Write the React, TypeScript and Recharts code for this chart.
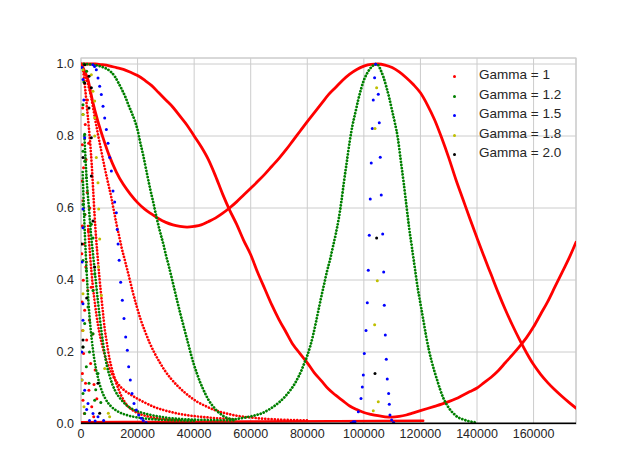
import React from 'react';
import { ScatterChart, Scatter, XAxis, YAxis, CartesianGrid, ReferenceArea } from 'recharts';

type Pt = [number, number];

// Gamma = 1 (red)
const gamma1WideA: Pt[] = [
  [0, 1.0], [2500, 1.0], [5000, 1.0], [7500, 0.998], [10000, 0.995], [12500, 0.99], [15000, 0.985],
  [17500, 0.977], [20000, 0.968], [22500, 0.955], [25000, 0.94], [27500, 0.92], [30000, 0.9],
  [32500, 0.88], [35000, 0.855], [37500, 0.83], [40000, 0.8], [42500, 0.77], [45000, 0.735],
  [47500, 0.69], [50000, 0.64], [52500, 0.595], [55000, 0.555], [57500, 0.51], [60000, 0.47],
  [62500, 0.42], [65000, 0.375], [67500, 0.33], [70000, 0.29], [72500, 0.255], [75000, 0.22],
  [77500, 0.195], [80000, 0.17], [82500, 0.142], [85000, 0.12], [87500, 0.097], [90000, 0.08],
  [92500, 0.065], [95000, 0.05], [97500, 0.04], [100000, 0.032], [102500, 0.027], [105000, 0.023],
  [107500, 0.02], [110000, 0.019], [112500, 0.021], [115000, 0.025], [117500, 0.031], [120000, 0.037],
  [122500, 0.043], [125000, 0.049], [127500, 0.055], [130000, 0.062], [132500, 0.07], [135000, 0.08],
  [137500, 0.09], [140000, 0.1], [142500, 0.115], [145000, 0.13], [147500, 0.148], [150000, 0.17],
  [152500, 0.192], [155000, 0.215], [157500, 0.24], [160000, 0.27], [162500, 0.305], [165000, 0.34],
  [167500, 0.38], [170000, 0.42], [172500, 0.46], [175000, 0.505],
];
const gamma1WideB: Pt[] = [
  [0, 1.0], [1000, 0.985], [2500, 0.955], [4000, 0.9], [6000, 0.84], [8000, 0.79], [10000, 0.745],
  [12500, 0.7], [15000, 0.665], [17500, 0.638], [20000, 0.615], [22500, 0.597], [25000, 0.583],
  [27500, 0.57], [30000, 0.56], [32500, 0.553], [35000, 0.549], [37500, 0.547], [40000, 0.549],
  [42500, 0.553], [45000, 0.562], [47500, 0.572], [50000, 0.585], [52500, 0.6], [55000, 0.617],
  [57500, 0.636], [60000, 0.655], [62500, 0.674], [65000, 0.694], [67500, 0.716], [70000, 0.738],
  [72500, 0.762], [75000, 0.788], [77500, 0.814], [80000, 0.84], [82500, 0.865], [85000, 0.89],
  [87500, 0.915], [90000, 0.935], [92500, 0.955], [95000, 0.972], [97500, 0.985], [100000, 0.994],
  [102500, 0.999], [105000, 1.0], [107500, 0.997], [110000, 0.99], [112500, 0.978], [115000, 0.962],
  [117500, 0.943], [120000, 0.92], [122500, 0.886], [125000, 0.845], [127500, 0.795], [130000, 0.74],
  [132500, 0.68], [135000, 0.625], [137500, 0.57], [140000, 0.517], [142500, 0.465], [145000, 0.415],
  [147500, 0.365], [150000, 0.318], [152500, 0.275], [155000, 0.235], [157500, 0.198], [160000, 0.165],
  [162500, 0.138], [165000, 0.115], [167500, 0.095], [170000, 0.077], [172500, 0.06], [175000, 0.044],
];
const gamma1DecayC: Pt[] = [
  [1500, 0.97], [2600, 0.94], [3640, 0.906], [4800, 0.855], [6010, 0.804], [7200, 0.757], [8370, 0.712],
  [9550, 0.67], [10730, 0.629], [11600, 0.593], [12500, 0.557], [13400, 0.525], [14300, 0.492],
  [15500, 0.455], [16700, 0.418], [18200, 0.37], [19650, 0.328], [21100, 0.29], [22600, 0.258],
  [24300, 0.225], [26000, 0.197], [27800, 0.172], [29500, 0.15], [31700, 0.127], [34000, 0.107],
  [36300, 0.09], [38500, 0.076], [41000, 0.062], [44000, 0.05], [47500, 0.038], [51000, 0.03],
  [55000, 0.023], [60000, 0.018], [68000, 0.013], [80000, 0.01],
];
const gamma1DecayC2: Pt[] = [
  [800, 0.98], [1500, 0.93], [2100, 0.88], [2700, 0.83], [3300, 0.775], [3800, 0.72], [4300, 0.65],
  [4800, 0.58], [5400, 0.51], [6000, 0.454], [6600, 0.4], [7200, 0.353], [7800, 0.307], [8370, 0.265],
  [9000, 0.232], [9540, 0.205], [10100, 0.18], [10730, 0.159], [11600, 0.135], [12500, 0.113],
  [13400, 0.094], [14270, 0.078], [15400, 0.062], [16600, 0.049], [18300, 0.038], [20150, 0.03],
  [23700, 0.021], [28000, 0.015], [35000, 0.011],
];
const gamma1DecayD: Pt[] = [
  [2500, 0.55], [3300, 0.46], [4100, 0.39], [5000, 0.33], [6000, 0.275], [7000, 0.235], [8200, 0.197],
  [9500, 0.165], [11000, 0.138], [12500, 0.118], [14000, 0.103], [15600, 0.092], [17300, 0.083],
  [20000, 0.07], [23200, 0.057], [26000, 0.047], [29100, 0.039], [32500, 0.032], [36200, 0.026],
  [40000, 0.022], [45000, 0.018], [54000, 0.013],
];
const gamma1Floor: Pt[] = [[0, 0.005], [30000, 0.006], [60000, 0.007], [90000, 0.008], [121000, 0.009]];
const gamma1Cloud: Pt[] = [
  [400, 0.99], [1200, 0.975], [600, 0.878], [1500, 0.832], [500, 0.776], [1800, 0.735], [900, 0.712],
  [400, 0.675], [2200, 0.643], [700, 0.62], [1400, 0.582], [500, 0.55], [2600, 0.536], [1000, 0.5],
  [300, 0.473], [1700, 0.436], [800, 0.399], [2400, 0.371], [400, 0.339], [1300, 0.316], [3000, 0.288],
  [600, 0.26], [2000, 0.233], [900, 0.196], [3400, 0.168], [500, 0.14], [1600, 0.113], [2800, 0.094],
  [700, 0.066], [3800, 0.048], [1200, 0.029], [4500, 0.02], [2300, 0.9], [3100, 0.6], [3600, 0.38],
  [4200, 0.25], [5000, 0.15], [2700, 0.78], [1900, 0.45], [4600, 0.11], [5600, 0.07],
];

// Gamma = 1.2 (green)
const gamma12Main: Pt[] = [
  [1000, 1.0], [3000, 0.999], [5000, 0.997], [7000, 0.993], [9000, 0.987], [10600, 0.978], [12000, 0.965],
  [13200, 0.948], [14400, 0.93], [15550, 0.911], [16700, 0.888], [17900, 0.865], [19000, 0.843],
  [19900, 0.82], [20860, 0.785], [22030, 0.745], [23200, 0.7], [24400, 0.655], [25560, 0.615],
  [26760, 0.572], [27900, 0.535], [29100, 0.5], [30000, 0.47], [31000, 0.44], [32000, 0.408],
  [33000, 0.375], [34000, 0.342], [35000, 0.31], [36000, 0.28], [37000, 0.25], [38000, 0.22],
  [39000, 0.19], [40000, 0.163], [41000, 0.14], [42000, 0.118], [43000, 0.1], [44000, 0.083],
  [45000, 0.068], [46000, 0.056], [47000, 0.046], [48000, 0.037], [49000, 0.03], [50000, 0.024],
  [51000, 0.019], [52000, 0.016], [53000, 0.014], [54000, 0.013], [56000, 0.015], [58000, 0.018],
  [60000, 0.021], [62000, 0.025], [64000, 0.03], [66000, 0.038], [68000, 0.048], [70000, 0.06],
  [72000, 0.075], [74000, 0.094], [75000, 0.105], [76000, 0.118], [77000, 0.133], [78000, 0.15],
  [79000, 0.17], [80000, 0.19], [81000, 0.215], [82000, 0.245], [83000, 0.28], [84000, 0.318],
  [85000, 0.355], [86000, 0.39], [87000, 0.425], [88000, 0.455], [89000, 0.49], [90000, 0.525],
  [91000, 0.565], [92000, 0.615], [93000, 0.675], [94000, 0.73], [95000, 0.785], [96000, 0.83],
  [97000, 0.865], [98000, 0.9], [99000, 0.93], [100000, 0.955], [101000, 0.972], [102000, 0.985],
  [103000, 0.994], [104000, 0.999], [104500, 1.0], [105000, 0.998], [106000, 0.982], [107000, 0.962],
  [108000, 0.935], [109000, 0.905], [110000, 0.87], [111000, 0.835], [112000, 0.795], [113000, 0.735],
  [114000, 0.675], [115000, 0.61], [116000, 0.545], [117000, 0.49], [118000, 0.435], [119000, 0.38],
  [120000, 0.335], [121000, 0.29], [122000, 0.245], [123000, 0.205], [124000, 0.173], [125000, 0.145],
  [126000, 0.12], [127000, 0.095], [128000, 0.074], [129000, 0.058], [130000, 0.045], [131000, 0.035],
  [132000, 0.027], [133000, 0.02], [134000, 0.016], [135000, 0.013], [137000, 0.008], [139000, 0.005],
  [140000, 0.004],
];
const gamma12DecayA: Pt[] = [
  [1200, 0.8], [2000, 0.68], [2800, 0.6], [3500, 0.53], [4240, 0.473], [4800, 0.43], [5400, 0.385],
  [6000, 0.34], [6600, 0.298], [7190, 0.26], [7800, 0.225], [8370, 0.195], [9200, 0.16], [10130, 0.133],
  [11000, 0.112], [11900, 0.095], [13000, 0.08], [14270, 0.067], [16000, 0.053], [17800, 0.043],
  [20500, 0.034], [23700, 0.027], [29000, 0.019], [35000, 0.014], [45000, 0.011], [54000, 0.01],
];
const gamma12DecayB: Pt[] = [
  [600, 0.7], [1100, 0.58], [1700, 0.47], [2300, 0.38], [3000, 0.3], [3800, 0.235], [4700, 0.18],
  [5800, 0.135], [7000, 0.1], [8500, 0.072], [10500, 0.05], [13000, 0.035], [16500, 0.024],
  [21000, 0.017], [28000, 0.012], [40000, 0.009],
];
const gamma12Cloud: Pt[] = [
  [707, 0.887], [700, 0.86], [1300, 0.805], [700, 0.758], [1300, 0.73], [1880, 0.684], [700, 0.61],
  [1300, 0.582], [3650, 0.555], [4240, 0.517], [700, 0.454], [1880, 0.426], [4830, 0.417], [4240, 0.371],
  [2470, 0.325], [1300, 0.279], [4240, 0.251], [700, 0.214], [1880, 0.159], [2830, 0.113], [700, 0.085],
  [4830, 0.066], [1300, 0.029], [3000, 0.2], [6000, 0.14], [5200, 0.095], [7000, 0.06], [2000, 0.98],
  [1000, 0.95],
];

// Gamma = 1.5 (blue)
const gamma15Decay: Pt[] = [
  [4200, 0.998], [4800, 0.993], [5420, 0.984], [6010, 0.961], [6600, 0.938], [7190, 0.915], [7780, 0.883],
  [8370, 0.85], [8960, 0.818], [9550, 0.78], [10140, 0.74], [10730, 0.703], [11310, 0.647], [11900, 0.617],
  [12490, 0.587], [12800, 0.54], [13100, 0.5], [13500, 0.455], [14020, 0.394], [14610, 0.344],
  [15200, 0.293], [15790, 0.242], [16380, 0.205], [16850, 0.159], [17440, 0.122], [18030, 0.085],
  [18740, 0.057], [19560, 0.039], [20390, 0.025], [21330, 0.016], [22000, 0.01], [23000, 0.004],
];
const gamma15Peak: Pt[] = [
  [95500, 0.003], [96270, 0.006], [96860, 0.006], [98040, 0.034], [98980, 0.071], [99450, 0.103],
  [99800, 0.136], [100150, 0.196], [100750, 0.26], [101220, 0.337], [101570, 0.427], [101920, 0.524],
  [102270, 0.625], [102620, 0.725], [102980, 0.821], [103330, 0.9], [103800, 0.962], [104170, 0.999],
  [105100, 0.916], [105450, 0.837], [105800, 0.741], [106160, 0.636], [106650, 0.528], [107000, 0.422],
  [107230, 0.33], [107580, 0.247], [107930, 0.18], [108280, 0.125], [108760, 0.085], [108990, 0.055],
  [109230, 0.025], [109820, 0.011], [110500, 0.004],
];
const gamma15Cloud: Pt[] = [
  [700, 0.957], [300, 0.99], [1300, 0.795], [700, 0.597], [700, 0.545], [700, 0.334], [700, 0.288],
  [350, 0.122], [1300, 0.094], [2470, 0.057], [4240, 0.029], [6010, 0.02], [1000, 0.9], [400, 0.45],
  [300, 0.2], [2000, 0.04], [3000, 0.01], [5000, 0.008], [8000, 0.01],
];

// Gamma = 1.8 (yellow)
const gamma18Pts: Pt[] = [
  [707, 0.984], [3650, 0.97], [4240, 0.924], [4830, 0.897], [707, 0.86], [4830, 0.851], [4830, 0.8],
  [5420, 0.74], [6010, 0.67], [6250, 0.597], [6600, 0.514], [6130, 0.436], [7190, 0.357], [8370, 0.154],
  [10130, 0.02], [707, 0.362], [707, 0.26], [354, 0.122], [1060, 0.048], [9660, 0.03],
  [104520, 0.934], [103930, 0.821], [104750, 0.398], [103810, 0.276], [105100, 0.062], [103330, 0.037],
];

// Gamma = 2.0 (black)
const gamma20Pts: Pt[] = [
  [1300, 0.998], [2830, 0.966], [1300, 0.947], [3650, 0.934], [2830, 0.878], [3650, 0.795], [707, 0.74],
  [3650, 0.689], [4240, 0.564], [4830, 0.436], [707, 0.233], [707, 0.214], [6010, 0.113], [6600, 0.03],
  [2000, 0.35], [300, 0.5], [104520, 0.517], [103930, 0.14],
];
const gamma20Floor: Pt[] = [[0, 0], [175000, 0]];

const xTicks = [0, 20000, 40000, 60000, 80000, 100000, 120000, 140000, 160000];
const yTicks = [0, 0.2, 0.4, 0.6, 0.8, 1.0];
const legendLabels = ['Gamma = 1', 'Gamma = 1.2', 'Gamma = 1.5', 'Gamma = 1.8', 'Gamma = 2.0'];
const colors = ['#ff0000', '#008000', '#0000ff', '#bfbf00', '#000000'];

const FONT = '"Liberation Sans", Arial, sans-serif';
const Y_MAX = 1.0167;

const toRows = (pts: Pt[]) => pts.map(([x, y]) => ({ x, y }));
const NoMark = () => <g />;

// a curve drawn as a (dotted) line through its points
const trace = (key: string, pts: Pt[], color: string, width: number, dash?: string) => (
  <Scatter
    key={key}
    data={toRows(pts)}
    fill={color}
    shape={NoMark}
    isAnimationActive={false}
    lineJointType="monotoneX"
    line={{ stroke: color, strokeWidth: width, strokeDasharray: dash, strokeLinecap: 'round', strokeLinejoin: 'round' }}
  />
);

// loose markers
const dots = (key: string, pts: Pt[], color: string, r = 1.5) => (
  <Scatter
    key={key}
    data={toRows(pts)}
    fill={color}
    isAnimationActive={false}
    shape={(p: any) => <circle cx={p.cx} cy={p.cy} r={r} fill={color} />}
  />
);

const DOT = '0.01 3.2';

export default function App() {
  const [red, green, blue, yellow, black] = colors;
  return (
    <div style={{ position: 'absolute', left: 0, top: 0, width: 640, height: 476, background: '#fff' }}>
      <ScatterChart width={640} height={476} margin={{ top: 58, right: 64, bottom: 0, left: 0 }}>
        <CartesianGrid stroke="#cccccc" strokeWidth={1} />
        <XAxis
          type="number"
          dataKey="x"
          domain={[0, 175000]}
          ticks={xTicks}
          interval={0}
          allowDataOverflow
          height={52}
          axisLine={false}
          tickLine={false}
          tickSize={3}
          tickMargin={2}
          tick={{ fill: '#262626', fontSize: 12.5, fontFamily: FONT }}
        />
        <YAxis
          type="number"
          dataKey="y"
          domain={[0, Y_MAX]}
          ticks={yTicks}
          interval={0}
          allowDataOverflow
          width={81}
          axisLine={false}
          tickLine={false}
          tickSize={5}
          tickMargin={2}
          tickFormatter={(v: number) => v.toFixed(1)}
          tick={{ fill: '#262626', fontSize: 12.5, fontFamily: FONT }}
        />
        <ReferenceArea x1={0} x2={175000} y1={0} y2={Y_MAX} fill="none" stroke="#cccccc" strokeWidth={1.2} ifOverflow="visible" />

        {trace('g1a', gamma1WideA, red, 2.8)}
        {trace('g1b', gamma1WideB, red, 2.8)}
        {trace('g1c', gamma1DecayC, red, 2.7, DOT)}
        {trace('g1c2', gamma1DecayC2, red, 2.7, DOT)}
        {trace('g1d', gamma1DecayD, red, 2.7, DOT)}
        {trace('g1f', gamma1Floor, red, 2.4)}
        {dots('g1cl', gamma1Cloud, red)}

        {trace('g12m', gamma12Main, green, 2.8, DOT)}
        {trace('g12a', gamma12DecayA, green, 2.7, DOT)}
        {trace('g12b', gamma12DecayB, green, 2.7, DOT)}
        {dots('g12cl', gamma12Cloud, green)}

        {dots('g15d', gamma15Decay, blue)}
        {dots('g15p', gamma15Peak, blue)}
        {dots('g15cl', gamma15Cloud, blue)}

        {dots('g18', gamma18Pts, yellow)}

        {dots('g20', gamma20Pts, black)}
        {trace('g20f', gamma20Floor, black, 3)}
      </ScatterChart>

      {legendLabels.map((label, i) => (
        <React.Fragment key={label}>
          <span
            style={{
              position: 'absolute', left: 452.5, top: 75 + i * 19.6, width: 3, height: 3,
              borderRadius: 2, background: colors[i],
            }}
          />
          <span
            style={{
              position: 'absolute', left: 479, top: 66 + i * 19.6, lineHeight: '18px',
              fontSize: 13.5, fontFamily: FONT, color: '#262626', whiteSpace: 'nowrap',
            }}
          >
            {label}
          </span>
        </React.Fragment>
      ))}
    </div>
  );
}
